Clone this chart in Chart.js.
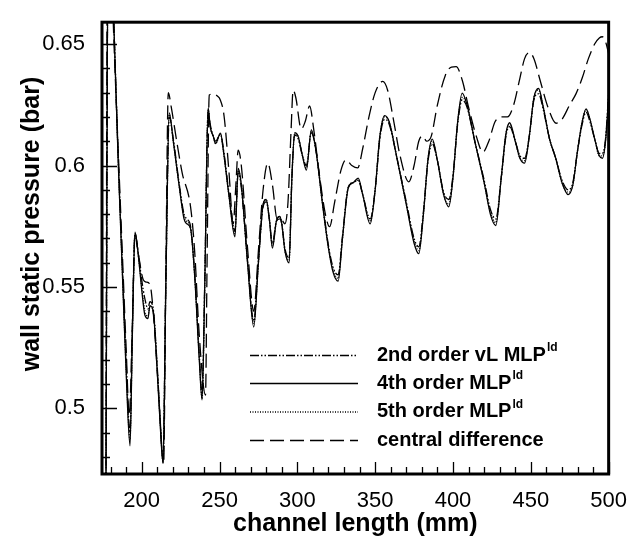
<!DOCTYPE html>
<html>
<head>
<meta charset="utf-8">
<script src="https://cdn.jsdelivr.net/npm/chart.js@4.4.1/dist/chart.umd.min.js"></script>
<style>
html, body { margin: 0; padding: 0; background: #fff; }
</style>
</head>
<body>
<canvas id="chartP" width="633" height="544"></canvas>
<script>
"use strict";

// x positions shared by the three MLP schemes (mm)
var xMlp = [177,178.5,181.5,183,185,187.2,190,192.5,194,195.7,198,200,202.1,204,205.3,207.4,210,212,213.7,215.5,
  217.7,220.3,224,227.2,229,231.4,234,237,238.8,240.5,242.7,244,246,247.5,250.6,252.5,256,259.9,262,264,
  268,272,275,278,280,282,284,286.5,288.7,290,292,294.7,296.5,298.3,300.5,303.3,305.8,309,312,316,
  320,323,326.2,329,332.7,336,339.1,342,346.8,350,353,356.1,359,364,370,375,378,381,384,386.7,
  390,394,397.3,400,403,405.9,409,414,420,424,427.5,431,434,436.4,440,443,446,449,452,455,
  458,462,466,470,474,477,480,483,485.5,488,491,494,496,498,500];

// 4th order MLP (bar)
var p4th = [0.46,0.70,0.67,0.640,0.600,0.5625,0.515,0.4846,0.530,0.5726,0.562,0.549,0.5383,0.537,0.5423,0.540,0.515,0.492,0.4775,0.550,
  0.6217,0.610,0.592,0.578,0.576,0.574,0.555,0.520,0.5035,0.550,0.6238,0.616,0.612,0.609,0.6133,0.606,0.588,0.5706,0.5988,0.592,
  0.560,0.5335,0.560,0.584,0.586,0.578,0.566,0.577,0.579,0.576,0.565,0.5599,0.595,0.6135,0.612,0.604,0.5981,0.6147,0.606,0.585,
  0.566,0.556,0.5524,0.570,0.5907,0.593,0.5948,0.588,0.576,0.590,0.612,0.6205,0.618,0.603,0.584,0.568,0.5637,0.580,0.603,0.6109,
  0.602,0.588,0.583,0.595,0.618,0.6298,0.625,0.610,0.593,0.580,0.5753,0.595,0.613,0.6176,0.610,0.603,0.601,0.612,0.628,0.6317,
  0.624,0.611,0.603,0.593,0.588,0.592,0.606,0.618,0.6233,0.619,0.611,0.604,0.603,0.610,0.628];

// 2nd order vL MLP (bar)
var p2nd = [0.46,0.70,0.67,0.641,0.602,0.565,0.520,0.490,0.532,0.571,0.563,0.553,0.545,0.541,0.544,0.541,0.517,0.494,0.479,0.552,
  0.620,0.611,0.593,0.580,0.578,0.575,0.556,0.522,0.506,0.552,0.6225,0.617,0.612,0.610,0.613,0.607,0.589,0.573,0.597,0.591,
  0.561,0.536,0.561,0.583,0.585,0.578,0.568,0.577,0.578,0.576,0.566,0.562,0.595,0.6125,0.611,0.604,0.600,0.6135,0.606,0.586,
  0.567,0.558,0.555,0.571,0.591,0.593,0.594,0.588,0.578,0.590,0.611,0.619,0.617,0.603,0.585,0.570,0.5665,0.581,0.602,0.609,
  0.602,0.589,0.586,0.596,0.617,0.627,0.624,0.610,0.594,0.582,0.578,0.595,0.612,0.616,0.610,0.604,0.603,0.612,0.627,0.6295,
  0.623,0.611,0.603,0.594,0.590,0.593,0.606,0.617,0.622,0.618,0.611,0.605,0.605,0.611,0.630];

// 5th order MLP (bar)
var p5th = [0.46,0.70,0.67,0.640,0.601,0.563,0.517,0.487,0.531,0.572,0.562,0.550,0.540,0.538,0.542,0.540,0.516,0.493,0.478,0.550,
  0.621,0.610,0.592,0.579,0.577,0.574,0.555,0.521,0.504,0.550,0.623,0.616,0.612,0.609,0.613,0.606,0.588,0.572,0.598,0.592,
  0.560,0.535,0.560,0.584,0.586,0.578,0.567,0.577,0.579,0.576,0.565,0.561,0.595,0.613,0.612,0.604,0.599,0.614,0.606,0.585,
  0.566,0.557,0.5535,0.570,0.591,0.593,0.594,0.588,0.577,0.590,0.612,0.620,0.618,0.603,0.584,0.569,0.565,0.580,0.603,0.610,
  0.602,0.588,0.584,0.595,0.618,0.628,0.625,0.610,0.593,0.581,0.5765,0.595,0.613,0.617,0.610,0.603,0.602,0.612,0.628,0.631,
  0.624,0.611,0.603,0.593,0.589,0.592,0.606,0.618,0.623,0.619,0.611,0.604,0.604,0.610,0.629];

// central difference
var xCd = [177,178,180.5,182.5,185,187.5,190,192,194,195.7,198,201,203,205.3,208,211,214.1,215.5,217.1,219,
  222.5,226,231.4,234,237,241,242,243.4,246,248.6,250.5,252.9,256,258.8,260.5,262,264,268,272,275,
  278,281,284,287,289.5,292,294,296,297.3,299,302.5,305,307.9,310.5,314,318,320.7,324,328,331.3,
  335,338.8,342,346,350,354.8,358,362,366,371.6,375,378,380.6,383,386,390,395,399,402,406,
  410,415,419.2,423,427,431,435,439,443,446,449.1,452,456,461,466.2,470,475,479,483,487,
  491,494,496,498,500];
var pCd = [0.46,0.70,0.68,0.645,0.605,0.565,0.525,0.497,0.535,0.572,0.563,0.553,0.552,0.551,0.535,0.505,0.477,0.555,0.630,0.624,
  0.610,0.597,0.583,0.565,0.530,0.5055,0.560,0.629,0.6295,0.6286,0.627,0.6205,0.598,0.576,0.592,0.6063,0.600,0.566,0.540,0.565,
  0.590,0.601,0.592,0.578,0.578,0.576,0.585,0.615,0.631,0.628,0.615,0.618,0.6245,0.615,0.597,0.580,0.5748,0.585,0.598,0.6024,
  0.600,0.599,0.607,0.620,0.630,0.6346,0.631,0.618,0.604,0.5933,0.600,0.610,0.6122,0.610,0.612,0.625,0.637,0.6405,0.6407,0.635,
  0.624,0.612,0.6055,0.610,0.618,0.620,0.620,0.625,0.636,0.644,0.6465,0.644,0.635,0.624,0.6174,0.619,0.625,0.6295,0.636,0.644,
  0.650,0.6525,0.653,0.651,0.646];

var xTicks = [200, 250, 300, 350, 400, 450, 500];
var yTicks = [0.5, 0.55, 0.6, 0.65];
var yTickLabels = ['0.5', '0.55', '0.6', '0.65'];

var seriesNames = ['2nd order vL MLP', '4th order MLP', '5th order MLP', 'central difference'];
var seriesSup = ['ld', 'ld', 'ld', ''];
var seriesDash = [[9, 2, 1.5, 2, 1.5, 2], [], [1, 1.5], [14, 6]];

var FONT = '"Liberation Sans", Arial, Helvetica, sans-serif';

function pts(xs, ys) {
    var out = [];
    for (var i = 0; i < xs.length; i++) out.push({x: xs[i], y: ys[i]});
    return out;
}

function mkSet(label, xs, ys, dash) {
    return {
        label: label,
        data: pts(xs, ys),
        borderColor: '#000',
        borderWidth: 1.3,
        borderDash: dash,
        pointRadius: 0,
        fill: false,
        cubicInterpolationMode: 'monotone'
    };
}

// ticks inside, frame, axis titles and the legend with superscripts
var framePlugin = {
    id: 'framePlugin',
    afterDraw: function(chart) {
        var ctx = chart.ctx, a = chart.chartArea;
        var sx = chart.scales.x, sy = chart.scales.y;
        ctx.save();
        ctx.strokeStyle = '#000';
        ctx.lineWidth = 1.3;
        ctx.setLineDash([]);
        ctx.beginPath();
        for (var v = 180; v <= 500; v += 10) {
            var px = Math.round(sx.getPixelForValue(v)) + 0.5;
            var len = (v % 50 === 0) ? 12 : 7;
            ctx.moveTo(px, a.bottom);
            ctx.lineTo(px, a.bottom - len);
        }
        for (var k = 48; k <= 65; k++) {
            var py = Math.round(sy.getPixelForValue(k / 100)) + 0.5;
            var ln = (k % 5 === 0) ? 15 : 8;
            ctx.moveTo(a.left, py);
            ctx.lineTo(a.left + ln, py);
        }
        ctx.stroke();

        ctx.lineWidth = 3;
        ctx.strokeRect(a.left, a.top, a.right - a.left, a.bottom - a.top);

        // axis titles
        ctx.fillStyle = '#000';
        ctx.font = 'bold 25px ' + FONT;
        ctx.textAlign = 'center';
        ctx.textBaseline = 'middle';
        ctx.fillText('channel length (mm)', (a.left + a.right) / 2, 524);
        ctx.save();
        ctx.translate(32, 224);
        ctx.rotate(-Math.PI / 2);
        ctx.fillText('wall static pressure (bar)', 0, 0);
        ctx.restore();

        // legend
        var rowY = [355, 383, 411.5, 440];
        for (var i = 0; i < seriesNames.length; i++) {
            var y = rowY[i] + 0.5;
            ctx.lineWidth = 1.3;
            ctx.setLineDash(seriesDash[i]);
            ctx.beginPath();
            ctx.moveTo(250, y);
            ctx.lineTo(358, y);
            ctx.stroke();
            ctx.setLineDash([]);
            ctx.textAlign = 'left';
            ctx.textBaseline = 'middle';
            ctx.font = 'bold 20px ' + FONT;
            ctx.fillText(seriesNames[i], 377, rowY[i]);
            if (seriesSup[i]) {
                var w = ctx.measureText(seriesNames[i]).width;
                ctx.font = 'bold 12px ' + FONT;
                ctx.fillText(seriesSup[i], 377 + w + 1, rowY[i] - 7);
            }
        }
        ctx.restore();
    }
};

var ctxP = document.getElementById('chartP').getContext('2d');

var pressureChart = new Chart(ctxP, {
    type: 'line',
    data: {
        datasets: [
            mkSet(seriesNames[0], xMlp, p2nd, seriesDash[0]),
            mkSet(seriesNames[1], xMlp, p4th, seriesDash[1]),
            mkSet(seriesNames[2], xMlp, p5th, seriesDash[2]),
            mkSet(seriesNames[3], xCd, pCd, seriesDash[3])
        ]
    },
    options: {
        responsive: false,
        animation: false,
        devicePixelRatio: 1,
        layout: {padding: {top: 10, right: 23, left: 0, bottom: 0}},
        plugins: {legend: {display: false}, tooltip: {enabled: false}},
        scales: {
            x: {
                type: 'linear',
                min: 174.5,
                max: 500,
                grid: {display: false},
                border: {display: false},
                afterBuildTicks: function(s) { s.ticks = xTicks.map(function(v) { return {value: v}; }); },
                afterFit: function(s) { s.height = 70; },
                ticks: {
                    color: '#000',
                    padding: 6,
                    maxRotation: 0,
                    autoSkip: false,
                    font: {family: FONT, size: 22},
                    callback: function(v) { return String(v); }
                }
            },
            y: {
                type: 'linear',
                min: 0.473,
                max: 0.659,
                grid: {display: false},
                border: {display: false},
                afterBuildTicks: function(s) { s.ticks = yTicks.map(function(v) { return {value: v}; }); },
                afterFit: function(s) { s.width = 102; },
                ticks: {
                    color: '#000',
                    padding: 9,
                    autoSkip: false,
                    font: {family: FONT, size: 22},
                    callback: function(v, i) { return yTickLabels[i]; }
                }
            }
        }
    },
    plugins: [framePlugin]
});
</script>
</body>
</html>
